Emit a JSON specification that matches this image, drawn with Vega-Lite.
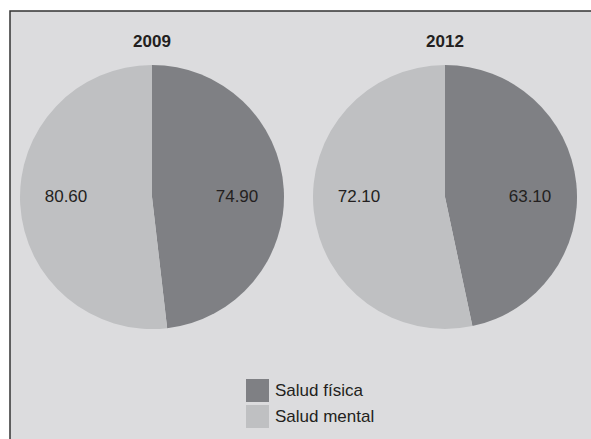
{
  "$schema": "https://vega.github.io/schema/vega-lite/v6.json",
  "autosize": "none",
  "padding": {"left": 10, "top": 11, "right": 0, "bottom": 0},
  "width": 582,
  "height": 429,
  "background": "white",
  "config": {
    "view": {"fill": "#dcdcde", "stroke": "#333333", "strokeWidth": 1.5},
    "font": "Liberation Sans"
  },
  "datasets": {
    "pies": [
      {"year": "2009", "category": "Salud física", "value": 74.9, "order": 1},
      {"year": "2009", "category": "Salud mental", "value": 80.6, "order": 2},
      {"year": "2012", "category": "Salud física", "value": 63.1, "order": 1},
      {"year": "2012", "category": "Salud mental", "value": 72.1, "order": 2}
    ],
    "years": [
      {"year": "2009"},
      {"year": "2012"}
    ]
  },
  "encoding": {
    "x": {"field": "year", "type": "nominal", "scale": {"type": "point", "domain": ["2009", "2012"], "range": [142, 435], "padding": 0}, "axis": null},
    "y": {"datum": "pie", "type": "nominal", "scale": {"type": "point", "range": [0, 372]}, "axis": null}
  },
  "layer": [
    {
      "data": {"name": "pies"},
      "transform": [{"filter": "datum.year == '2009'"}],
      "mark": {"type": "arc", "radius": 132, "strokeWidth": 0},
      "encoding": {
        "theta": {"field": "value", "type": "quantitative", "stack": "normalize"},
        "order": {"field": "order", "type": "quantitative"},
        "color": {
          "field": "category",
          "type": "nominal",
          "scale": {"domain": ["Salud física", "Salud mental"], "range": ["#7f8084", "#bfc0c2"]},
          "legend": {
            "orient": "none",
            "legendX": 236,
            "legendY": 368,
            "padding": 0,
            "title": null,
            "symbolType": "square",
            "symbolSize": 529,
            "symbolStrokeWidth": 0,
            "labelFontSize": 17,
            "labelOffset": 6,
            "rowPadding": 3,
            "labelColor": "#231f20",
            "labelFont": "Liberation Sans"
          }
        }
      }
    },
    {
      "data": {"name": "pies"},
      "transform": [{"filter": "datum.year == '2012'"}],
      "mark": {"type": "arc", "radius": 132, "strokeWidth": 0},
      "encoding": {
        "theta": {"field": "value", "type": "quantitative", "stack": "normalize"},
        "order": {"field": "order", "type": "quantitative"},
        "color": {"field": "category", "type": "nominal"}
      }
    },
    {
      "data": {"name": "pies"},
      "transform": [{"filter": "datum.category == 'Salud física'"}],
      "mark": {"type": "text", "radius": 85, "theta": 1.5708, "fontSize": 17, "color": "#231f20", "baseline": "middle", "align": "center"},
      "encoding": {
        "text": {"field": "value", "type": "quantitative", "format": ".2f"}
      }
    },
    {
      "data": {"name": "pies"},
      "transform": [{"filter": "datum.category == 'Salud mental'"}],
      "mark": {"type": "text", "radius": 86, "theta": 4.7124, "fontSize": 17, "color": "#231f20", "baseline": "middle", "align": "center"},
      "encoding": {
        "text": {"field": "value", "type": "quantitative", "format": ".2f"}
      }
    },
    {
      "data": {"name": "years"},
      "mark": {"type": "text", "radius": 155, "theta": 0, "fontSize": 17, "fontWeight": "bold", "color": "#231f20", "baseline": "middle", "align": "center"},
      "encoding": {
        "text": {"field": "year", "type": "nominal"}
      }
    }
  ]
}
